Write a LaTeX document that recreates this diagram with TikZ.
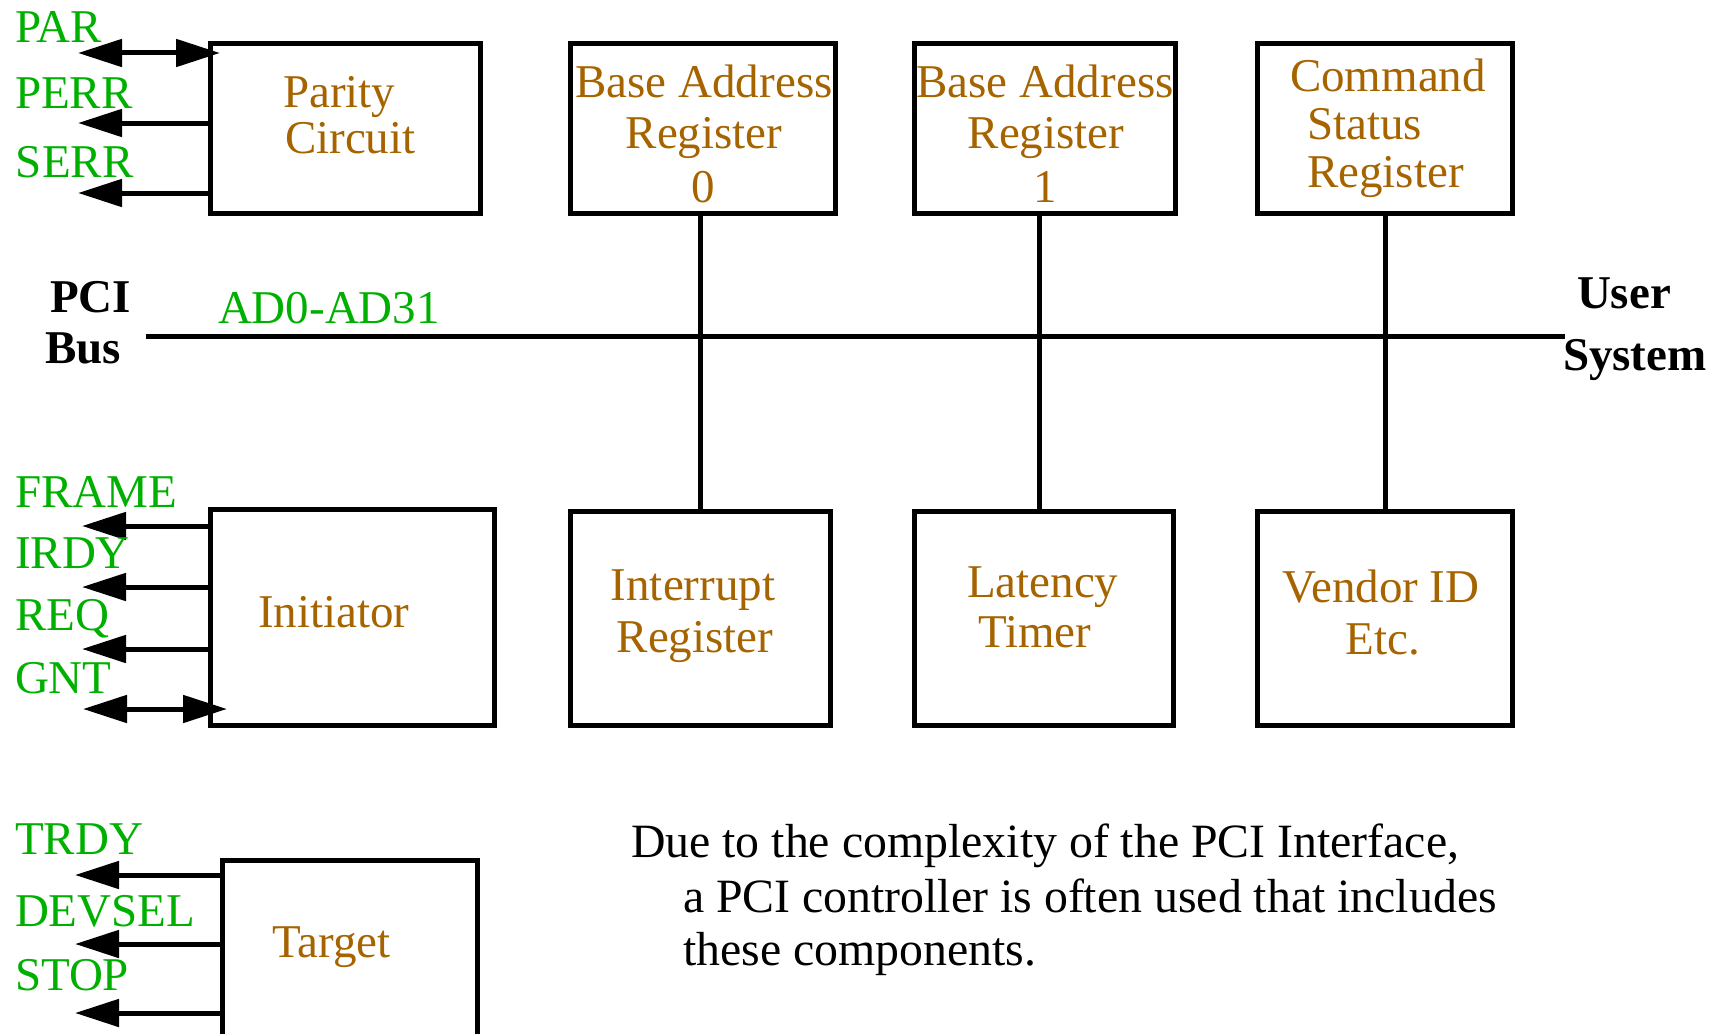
\documentclass[tikz,border=0pt]{standalone}
\usepackage{fontspec}
\setmainfont{Liberation Serif}
\usetikzlibrary{arrows.meta}
\definecolor{sigc}{RGB}{0,176,0}
\definecolor{lblc}{RGB}{166,100,0}
\newcommand\dfont{\fontsize{47}{50}\selectfont}
\newcommand\nfont{\fontsize{47.8}{50}\selectfont}
\begin{document}
\begin{tikzpicture}[x=1pt,y=-1pt,
  every node/.style={inner sep=0pt, outer sep=0pt},
  box/.style={draw, line width=5.5pt, rectangle},
  sigtxt/.style={text=sigc, anchor=base west, font=\dfont},
  lbltxt/.style={text=lblc, font=\dfont},
  blk/.style={text=black, anchor=base west, font=\nfont},
  bold/.style={text=black, anchor=base west, font=\dfont\bfseries},
  wire/.style={line width=5pt},
  sigarrow/.style={wire, -{Triangle[length=44pt,width=27pt]}},
  bidir/.style={wire, {Triangle[length=44pt,width=27pt]}-{Triangle[length=44pt,width=27pt]}}
]
\useasboundingbox (0,0) rectangle (1720,1033);
\clip (0,0) rectangle (1720,1033);

% boxes
\node[box, minimum width=270pt, minimum height=170pt] (parity) at (345.5,128.5) {};
\node[box, minimum width=265pt, minimum height=170pt] (ba0) at (703,128.5) {};
\node[box, minimum width=261pt, minimum height=170pt] (ba1) at (1045,128.5) {};
\node[box, minimum width=255pt, minimum height=170pt] (csr) at (1385,128.5) {};
\node[box, minimum width=284pt, minimum height=216pt] (init) at (352.5,617.5) {};
\node[box, minimum width=260pt, minimum height=214pt] (intr) at (700.5,618.5) {};
\node[box, minimum width=259pt, minimum height=214pt] (lat) at (1044,618.5) {};
\node[box, minimum width=255pt, minimum height=214pt] (vend) at (1385,618.5) {};
\node[box, minimum width=255pt, minimum height=240pt] (target) at (350,980.5) {};

% box texts
\node[lbltxt, anchor=base west] (tpar1) at (283,107) {Parity};
\node[lbltxt, anchor=base west] (tpar2) at (285,153) {Circuit};
\node[lbltxt, anchor=base] (tba0a) at (704,97) {Base Address};
\node[lbltxt, anchor=base] (tba0b) at (704,148) {Register};
\node[lbltxt, anchor=base] (tba0c) at (703,202) {0};
\node[lbltxt, anchor=base] (tba1a) at (1045,97) {Base Address};
\node[lbltxt, anchor=base] (tba1b) at (1046,148) {Register};
\node[lbltxt, anchor=base] (tba1c) at (1045,202) {1};
\node[lbltxt, anchor=base west] (tcsr1) at (1290,92) {Command};
\node[lbltxt, anchor=base west] (tcsr2) at (1307,139) {Status};
\node[lbltxt, anchor=base west] (tcsr3) at (1307,187) {Register};
\node[lbltxt, anchor=base west] (tinit) at (258,627) {Initiator};
\node[lbltxt, anchor=base] (tintr1) at (693,600) {Interrupt};
\node[lbltxt, anchor=base] (tintr2) at (695,652) {Register};
\node[lbltxt, anchor=base west] (tlat1) at (967,597) {Latency};
\node[lbltxt, anchor=base west] (tlat2) at (978,647) {Timer};
\node[lbltxt, anchor=base] (tvend1) at (1381,602) {Vendor ID};
\node[lbltxt, anchor=base] (tvend2) at (1383,654) {Etc.};
\node[lbltxt, anchor=base west] (ttarget) at (272,957) {Target};

% bus
\coordinate (busL) at (146,336);
\coordinate (busR) at (1565,336);
\draw[wire] (busL) -- (busR);
\node[sigtxt] (tad) at (218,323) {AD0-AD31};
\node[bold] (tpci) at (50,312) {PCI};
\node[bold] (tbus) at (45,363) {Bus};
\node[bold] (tuser) at (1577,308) {User};
\node[bold] (tsys) at (1563,370) {System};

% vertical connectors
\draw[wire] (intr.north |- ba0.south) -- (intr.north);
\coordinate (v1) at (1039,0);
\draw[wire] (v1 |- ba1.south) -- (v1 |- lat.north);
\draw[wire] (csr.south) -- (vend.north);

% parity signals
\coordinate (parL) at (78,53);
\coordinate (parR) at (220,53);
\draw[bidir] (parL) -- (parR);
\coordinate (perr) at (78,123);
\draw[sigarrow] (parity.west |- perr) -- (perr);
\coordinate (serr) at (78,193);
\draw[sigarrow] (parity.west |- serr) -- (serr);
\node[sigtxt] (lpar) at (15,43) {PAR};
\node[sigtxt] (lperr) at (15,108) {PERR};
\node[sigtxt] (lserr) at (16,177) {SERR};

% initiator signals
\coordinate (frame) at (82,526);
\draw[sigarrow] (init.west |- frame) -- (frame);
\coordinate (irdy) at (82,587);
\draw[sigarrow] (init.west |- irdy) -- (irdy);
\coordinate (req) at (82,649);
\draw[sigarrow] (init.west |- req) -- (req);
\coordinate (gntL) at (83,709);
\coordinate (gntR) at (227,709);
\draw[bidir] (gntL) -- (gntR);
\node[sigtxt] (lframe) at (15,507) {FRAME};
\node[sigtxt] (lirdy) at (15,568) {IRDY};
\node[sigtxt] (lreq) at (15,630) {REQ};
\node[sigtxt] (lgnt) at (15,693) {GNT};

% target signals
\coordinate (trdy) at (75,875);
\draw[sigarrow] (target.west |- trdy) -- (trdy);
\coordinate (devsel) at (75,944);
\draw[sigarrow] (target.west |- devsel) -- (devsel);
\coordinate (stop) at (75,1013);
\draw[sigarrow] (target.west |- stop) -- (stop);
\node[sigtxt] (ltrdy) at (15,854) {TRDY};
\node[sigtxt] (ldevsel) at (15,926) {DEVSEL};
\node[sigtxt] (lstop) at (15,990) {STOP};

% note
\node[blk] (note1) at (631,857) {Due to the complexity of the PCI Interface,};
\node[blk] (note2) at (683,912) {a PCI controller is often used that includes};
\node[blk] (note3) at (683,965) {these components.};
\end{tikzpicture}
\end{document}
